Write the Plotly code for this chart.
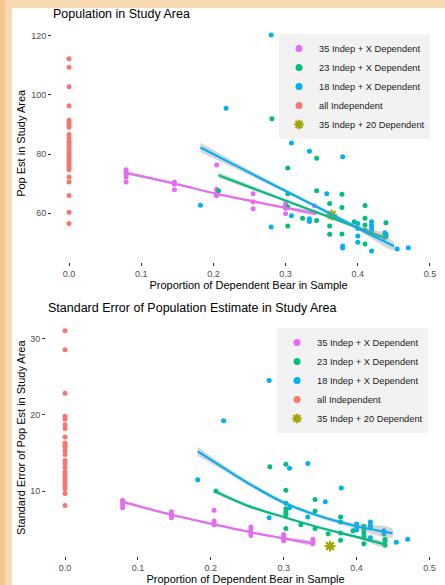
import plotly.graph_objects as go

# ---------------- data: top panel (population estimate) ----------------
pop_ind_x = [0.0] * 28
pop_ind_y = [112.2, 109.3, 102.7, 96.3, 91.4, 90.5, 89.8, 89.0, 86.6, 85.4, 84.3, 83.5,
             82.6, 81.8, 81.0, 80.2, 79.4, 78.6, 77.8, 77.0, 76.2, 75.4, 74.7, 72.2,
             70.5, 66.0, 60.3, 56.5]

pop_p35_x = [0.079, 0.079, 0.079, 0.079, 0.079, 0.146, 0.146, 0.146,
             0.2045, 0.2045, 0.2045, 0.2045, 0.2045, 0.255, 0.255, 0.255,
             0.300, 0.300, 0.300, 0.300, 0.340, 0.340]
pop_p35_y = [74.7, 73.9, 73.1, 72.2, 70.5, 70.5, 69.8, 67.9,
             76.3, 68.1, 66.8, 66.2, 65.9, 66.6, 63.9, 61.5,
             63.3, 62.6, 61.7, 59.8, 62.5, 60.2]

pop_p23_x = [0.207, 0.281, 0.303, 0.303, 0.303, 0.303, 0.3235, 0.343, 0.343, 0.343,
             0.361, 0.361, 0.361, 0.378, 0.378, 0.378, 0.395, 0.41, 0.41, 0.41, 0.41, 0.41,
             0.439, 0.439, 0.439]
pop_p23_y = [67.6, 91.9, 75.3, 66.6, 62.2, 55.7, 58.3, 78.6, 67.6, 57.5,
             63.3, 55.7, 52.9, 66.4, 61.9, 53.0, 57.1, 62.6, 58.3, 56.0, 54.2, 49.6,
             56.8, 52.9, 52.1]

pop_p18_x = [0.182, 0.2175, 0.28, 0.28, 0.308, 0.308, 0.333, 0.333, 0.333, 0.357,
             0.379, 0.379, 0.379, 0.40, 0.40, 0.40, 0.40, 0.419, 0.419, 0.419, 0.419, 0.419,
             0.4375, 0.4375, 0.4375, 0.4545, 0.47]
pop_p18_y = [62.7, 95.5, 120.2, 55.3, 83.7, 59.1, 80.9, 58.1, 57.2, 66.6,
             79.1, 48.9, 48.2, 56.5, 54.8, 52.3, 50.2, 57.1, 55.8, 54.7, 54.2, 47.2,
             53.4, 52.9, 51.9, 47.9, 48.3]

pop_star_x = [0.3636]
pop_star_y = [59.4]

# smoothed fits
pop_fit35_x = [0.079, 0.146, 0.2045, 0.255, 0.300, 0.340]
pop_fit35_y = [73.6, 70.0, 66.5, 64.0, 61.8, 60.0]
pop_fit35_se = [0.5, 0.35, 0.3, 0.3, 0.4, 0.6]
pop_fit23_x = [0.207, 0.27, 0.33, 0.39, 0.439]
pop_fit23_y = [72.8, 67.0, 61.5, 56.0, 51.5]
pop_fit23_se = [1.0, 0.6, 0.4, 0.6, 1.0]
pop_fit18_x = [0.182, 0.25, 0.30, 0.35, 0.40, 0.45]
pop_fit18_y = [82.2, 73.7, 67.5, 61.3, 55.0, 48.8]
pop_fit18_se = [1.6, 0.9, 0.6, 0.6, 0.8, 1.3]

# ---------------- data: bottom panel (standard error) ----------------
se_ind_y = [31.0, 28.5, 22.8, 19.8, 19.4, 18.7, 18.2, 17.1, 16.3, 16.0, 15.8, 15.3, 14.8,
            14.0, 13.6, 13.1, 12.5, 12.1, 11.7, 11.4, 11.0, 10.7, 10.3, 9.7, 8.1]
se_ind_x = [0.0] * len(se_ind_y)

se_p35_x = [0.079] * 4 + [0.146] * 4 + [0.2045] * 4 + [0.255] * 4 + [0.300] * 4 + [0.340] * 3
se_p35_y = [8.8, 8.5, 8.2, 7.8, 7.3, 7.0, 6.8, 6.5, 7.5, 6.1, 5.8, 5.6,
            5.3, 4.9, 4.5, 4.2, 4.3, 4.0, 3.7, 3.5, 3.7, 3.3, 3.1]

se_p23_x = [0.207, 0.281, 0.303, 0.303, 0.303, 0.303, 0.303, 0.303, 0.303, 0.3235,
            0.343, 0.343, 0.343, 0.361, 0.378, 0.378, 0.378, 0.378, 0.395,
            0.41, 0.41, 0.41, 0.41, 0.41, 0.439, 0.439, 0.439]
se_p23_y = [10.0, 13.2, 13.5, 10.1, 8.4, 7.7, 7.25, 6.9, 5.1, 5.6,
            8.9, 7.4, 5.1, 4.4, 6.6, 5.95, 4.5, 3.55, 4.8,
            5.4, 4.95, 4.5, 4.0, 3.1, 3.7, 3.4, 2.9]

se_p18_x = [0.182, 0.2175, 0.28, 0.28, 0.308, 0.308, 0.333, 0.333, 0.357, 0.379,
            0.40, 0.40, 0.40, 0.419, 0.419, 0.419, 0.419, 0.4375, 0.4375, 0.4545, 0.47]
se_p18_y = [11.5, 19.2, 24.5, 6.5, 13.0, 7.8, 13.6, 6.6, 8.6, 10.4,
            5.7, 5.2, 4.9, 5.95, 5.5, 5.2, 3.9, 4.8, 4.4, 3.3, 3.7]

se_star_x = [0.3636]
se_star_y = [2.8]

se_fit35_x = [0.079, 0.146, 0.2045, 0.255, 0.300, 0.340]
se_fit35_y = [8.6, 6.9, 5.65, 4.6, 3.8, 3.15]
se_fit35_se = [0.25, 0.15, 0.12, 0.12, 0.15, 0.22]
se_fit23_x = [0.207, 0.25, 0.30, 0.35, 0.40, 0.439]
se_fit23_y = [9.9, 8.1, 6.6, 5.2, 4.0, 3.0]
se_fit23_se = [0.3, 0.2, 0.15, 0.15, 0.2, 0.3]
se_fit18_x = [0.182, 0.21, 0.25, 0.30, 0.35, 0.40, 0.449]
se_fit18_y = [15.2, 13.5, 11.1, 8.5, 6.7, 5.4, 4.5]
se_fit18_se = [0.6, 0.4, 0.3, 0.25, 0.25, 0.35, 0.55]

x_ticks = [0.0, 0.1, 0.2, 0.3, 0.4, 0.5]
x_tick_text = ["0.0", "0.1", "0.2", "0.3", "0.4", "0.5"]
pop_y_ticks = [60, 80, 100, 120]
se_y_ticks = [10, 20, 30]

names = ["35 Indep + X Dependent", "23 Indep + X Dependent", "18 Indep + X Dependent",
         "all Independent", "35 Indep + 20 Dependent"]
colors = ["#E76BF3", "#00BF7D", "#00B0F6", "#F8766D", "#A3A500"]

FONT = "Liberation Sans, Arial, sans-serif"
W, H = 445, 585

fig = go.Figure()


def star_marker(col, size):
    return dict(symbol="asterisk-open", size=size, color=col, line=dict(color=col, width=2.2))


def add_panel(xa, ya, legend, pts, fits):
    # points
    for i, (px, py) in enumerate(pts):
        if i == 4:
            marker = star_marker(colors[i], 9)
        else:
            marker = dict(symbol="circle", size=5, color=colors[i], line=dict(width=0))
        fig.add_trace(go.Scatter(x=px, y=py, mode="markers", name=names[i], marker=marker,
                                 xaxis=xa, yaxis=ya, showlegend=False, hoverinfo="skip"))
    # ribbons and fits
    for (fx, fy, fs), col in zip(fits, colors[:3]):
        up = [a + b for a, b in zip(fy, fs)]
        lo = [a - b for a, b in zip(fy, fs)]
        fig.add_trace(go.Scatter(x=fx + fx[::-1], y=up + lo[::-1], mode="lines",
                                 fill="toself", fillcolor="rgba(153,153,153,0.4)",
                                 line=dict(width=0, shape="spline"), xaxis=xa, yaxis=ya,
                                 showlegend=False, hoverinfo="skip"))
        fig.add_trace(go.Scatter(x=fx, y=fy, mode="lines",
                                 line=dict(color=col, width=2.2, shape="spline"),
                                 xaxis=xa, yaxis=ya, showlegend=False, hoverinfo="skip"))
    # legend keys (ggplot-style, larger than the data points)
    for i in range(5):
        if i == 4:
            marker = star_marker(colors[i], 8)
        else:
            marker = dict(symbol="circle", size=7, color=colors[i], line=dict(width=0))
        fig.add_trace(go.Scatter(x=[None], y=[None], mode="markers", name=names[i],
                                 marker=marker, xaxis=xa, yaxis=ya, legend=legend,
                                 showlegend=True, hoverinfo="skip"))


add_panel("x", "y", "legend",
          [(pop_p35_x, pop_p35_y), (pop_p23_x, pop_p23_y), (pop_p18_x, pop_p18_y),
           (pop_ind_x, pop_ind_y), (pop_star_x, pop_star_y)],
          [(pop_fit35_x, pop_fit35_y, pop_fit35_se), (pop_fit23_x, pop_fit23_y, pop_fit23_se),
           (pop_fit18_x, pop_fit18_y, pop_fit18_se)])
add_panel("x2", "y2", "legend2",
          [(se_p35_x, se_p35_y), (se_p23_x, se_p23_y), (se_p18_x, se_p18_y),
           (se_ind_x, se_ind_y), (se_star_x, se_star_y)],
          [(se_fit35_x, se_fit35_y, se_fit35_se), (se_fit23_x, se_fit23_y, se_fit23_se),
           (se_fit18_x, se_fit18_y, se_fit18_se)])

tickfont = dict(family=FONT, size=9, color="#4D4D4D")
titlefont = dict(family=FONT, size=11, color="#000000")
common_ax = dict(showgrid=True, gridcolor="#FFFFFF", gridwidth=1.1, zeroline=False,
                 showline=False, ticks="outside", ticklen=3, tickwidth=1, tickcolor="#333333",
                 tickfont=tickfont, automargin=False)

legend_common = dict(bgcolor="#F2F2F2", borderwidth=0, font=dict(family=FONT, size=9.3, color="#1A1A1A"),
                     itemsizing="trace", xanchor="left", yanchor="top", traceorder="normal",
                     tracegroupgap=0, itemclick=False)

fig.update_layout(
    width=W, height=H,
    margin=dict(l=0, r=0, t=0, b=0),
    paper_bgcolor="#FFFFFF",
    plot_bgcolor="#EBEBEB",
    font=dict(family=FONT),
    xaxis=dict(domain=[52 / W, 1.0], range=[-0.0236, 0.5208], anchor="y",
               tickvals=x_ticks, ticktext=x_tick_text,
               minor=dict(dtick=0.05, tick0=0.05, gridcolor="#FFFFFF", gridwidth=0.5, ticks=""),
               title=dict(text="Proportion of Dependent Bear in Sample", font=titlefont, standoff=3),
               **common_ax),
    yaxis=dict(domain=[1 - 261.7 / H, 1 - 25 / H], range=[43.6, 123.6], anchor="x",
               tickvals=pop_y_ticks,
               minor=dict(dtick=10, tick0=50, gridcolor="#FFFFFF", gridwidth=0.5, ticks=""),
               title=dict(text="Pop Est in Study Area", font=titlefont, standoff=3),
               **common_ax),
    xaxis2=dict(domain=[46 / W, 1.0], range=[-0.0261, 0.5213], anchor="y2",
                tickvals=x_ticks, ticktext=x_tick_text,
                minor=dict(dtick=0.05, tick0=0.05, gridcolor="#FFFFFF", gridwidth=0.5, ticks=""),
                title=dict(text="Proportion of Dependent Bear in Sample", font=titlefont, standoff=3),
                **common_ax),
    yaxis2=dict(domain=[1 - 556 / H, 1 - 319.3 / H], range=[1.5, 32.5], anchor="x2",
                tickvals=se_y_ticks,
                minor=dict(dtick=5, tick0=5, gridcolor="#FFFFFF", gridwidth=0.5, ticks=""),
                title=dict(text="Standard Error of Pop Est in Study Area", font=titlefont, standoff=2),
                **common_ax),
    legend=dict(x=279 / W, y=1 - 34 / H, **legend_common),
    legend2=dict(x=277 / W, y=1 - 328 / H, **legend_common),
    shapes=[
        dict(type="rect", xref="paper", yref="paper", x0=0, x1=1, y0=0, y1=1,
             fillcolor="#F7D9B2", line=dict(width=0), layer="below"),
        dict(type="rect", xref="paper", yref="paper", x0=0, x1=5 / W, y0=0, y1=1,
             fillcolor="#F3C58F", line=dict(width=0), layer="below"),
        dict(type="rect", xref="paper", yref="paper", x0=12 / W, x1=1, y0=0, y1=1 - 8 / H,
             fillcolor="#FFFFFF", line=dict(width=0), layer="below"),
    ],
    annotations=[
        dict(text="Population in Study Area", xref="paper", yref="paper", x=51 / W, y=1 - 14 / H,
             xanchor="left", yanchor="middle", showarrow=False,
             font=dict(family=FONT, size=12.5, color="#000000")),
        dict(text="Standard Error of Population Estimate in Study Area", xref="paper", yref="paper",
             x=46 / W, y=1 - 308 / H, xanchor="left", yanchor="middle", showarrow=False,
             font=dict(family=FONT, size=12.5, color="#000000")),
    ],
)

fig.write_html("out.html",
               config={"displayModeBar": False},
               post_script="document.body.style.margin='0px';"
                           "document.documentElement.style.overflow='hidden';")
